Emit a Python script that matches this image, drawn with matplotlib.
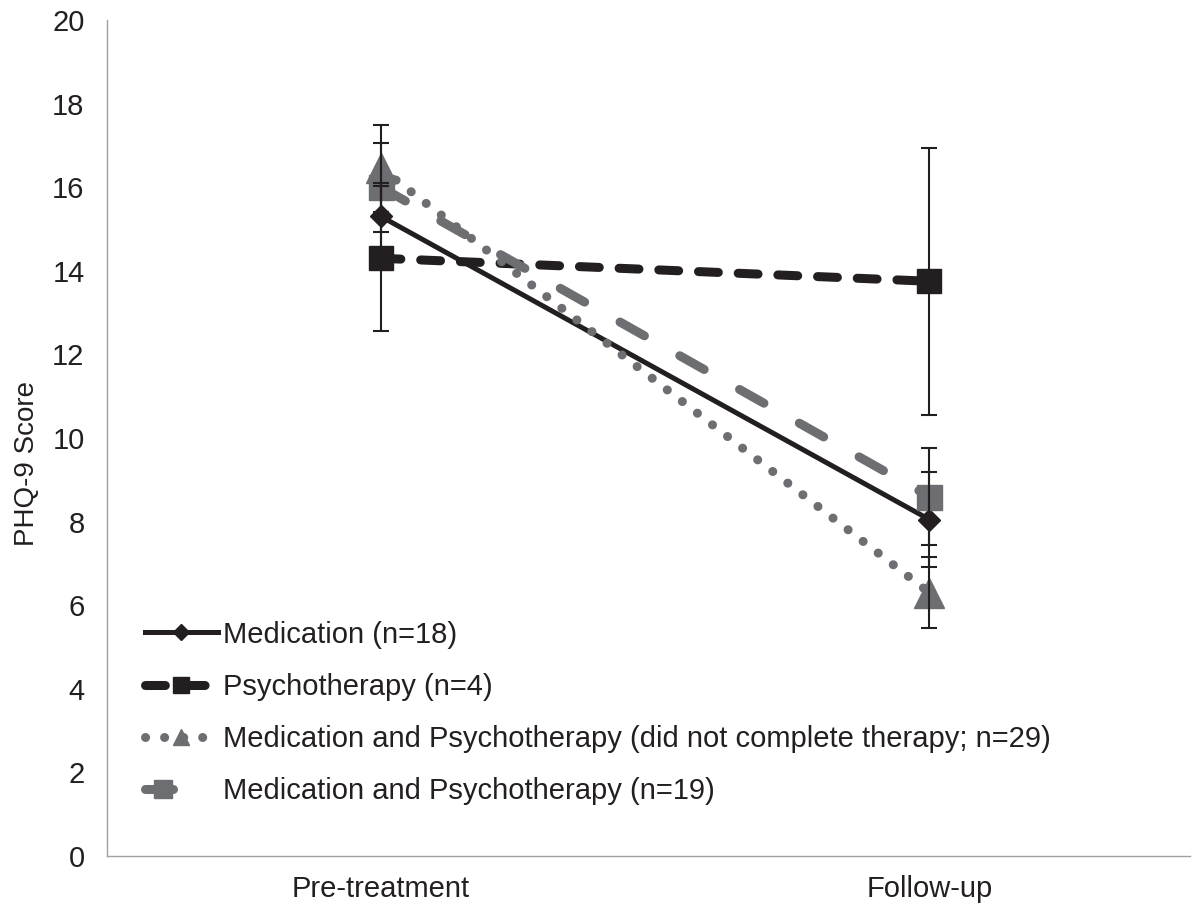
import matplotlib.pyplot as plt
import numpy as np
from matplotlib.legend_handler import HandlerLine2D

plt.rcParams['font.family'] = ['Liberation Sans', 'DejaVu Sans']

# DATA
timepoints = ['Pre-treatment', 'Follow-up']
med = [15.3, 8.05]
med_err = [0.8, 1.14]
psy = [14.3, 13.75]
psy_err = [1.74, 3.2]
med_psy_nc = [16.45, 6.3]
med_psy_nc_err = [1.05, 0.85]
med_psy = [16.0, 8.6]
med_psy_err = [1.06, 1.16]

labels = ['Medication (n=18)',
          'Psychotherapy (n=4)',
          'Medication and Psychotherapy (did not complete therapy; n=29)',
          'Medication and Psychotherapy (n=19)']

black = '#231f20'
grey = '#6d6e71'
txt = '#231f20'


# legend handle cut to half its length (excel-ish look for the last series)
class HalfHandler(HandlerLine2D):
    def create_artists(self, legend, orig_handle, xdescent, ydescent, width, height, fontsize, trans):
        return super().create_artists(legend, orig_handle, xdescent, ydescent,
                                      0.5 * width, height, fontsize, trans)


x = np.arange(len(timepoints))

fig = plt.figure(figsize=(12, 9.11), dpi=100)
ax = fig.add_axes([0.089, 0.0604, 0.903, 0.9176])

# LINES
l1, = ax.plot(x, med, color=black, lw=3.6, marker='D', ms=11, mfc=black, mec=black,
              label=labels[0], zorder=3)
l2, = ax.plot(x, psy, color=black, lw=6.5, dashes=(2.2, 2.2), dash_capstyle='round',
              marker='s', ms=17, mfc=black, mec=black, label=labels[1], zorder=3)
l3, = ax.plot(x, med_psy_nc, color=grey, lw=6.5, dashes=(0.01, 2.1), dash_capstyle='round',
              marker='^', ms=22, mfc=grey, mec=grey, label=labels[2], zorder=3)
l4, = ax.plot(x, med_psy, color=grey, lw=6.5, dashes=(3.1, 4.5), dash_capstyle='round',
              marker='s', ms=18, mfc=grey, mec=grey, label=labels[3], zorder=3)

# ERROR BARS
for vals, err in [(med, med_err), (psy, psy_err), (med_psy_nc, med_psy_nc_err), (med_psy, med_psy_err)]:
    ax.errorbar(x, vals, yerr=err, fmt='none', ecolor=black, elinewidth=1.5,
                capsize=6, capthick=1.5, zorder=4)

# AXES
ax.set_xlim(-0.5, 1.476)
ax.set_ylim(0, 20)
ax.set_yticks(np.arange(0, 21, 2))
ax.set_xticks(x)
ax.set_xticklabels(timepoints)
ax.tick_params(axis='both', length=0, labelsize=21, labelcolor=txt)
ax.tick_params(axis='y', pad=16)
ax.tick_params(axis='x', pad=14)
ax.spines[['top', 'right']].set_visible(False)
ax.spines[['left', 'bottom']].set_color('#a0a0a0')
ax.spines[['left', 'bottom']].set_linewidth(1.0)
ax.set_ylabel('PHQ-9 Score', fontsize=20, color=txt)
ax.yaxis.set_label_coords(-0.062, 0.469)

# LEGEND
leg = ax.legend(loc='upper left', bbox_to_anchor=(0.035, 0.2815), frameon=False,
                fontsize=21, handlelength=2.5, handletextpad=0.2, labelspacing=0.83,
                borderpad=0, borderaxespad=0, handler_map={l4: HalfHandler()})
for t in leg.get_texts():
    t.set_color(txt)
for h, ms in zip(leg.legend_handles, [8, 12, 12, 13]):
    h.set_markersize(ms)

fig.savefig('out.png', dpi=100)
